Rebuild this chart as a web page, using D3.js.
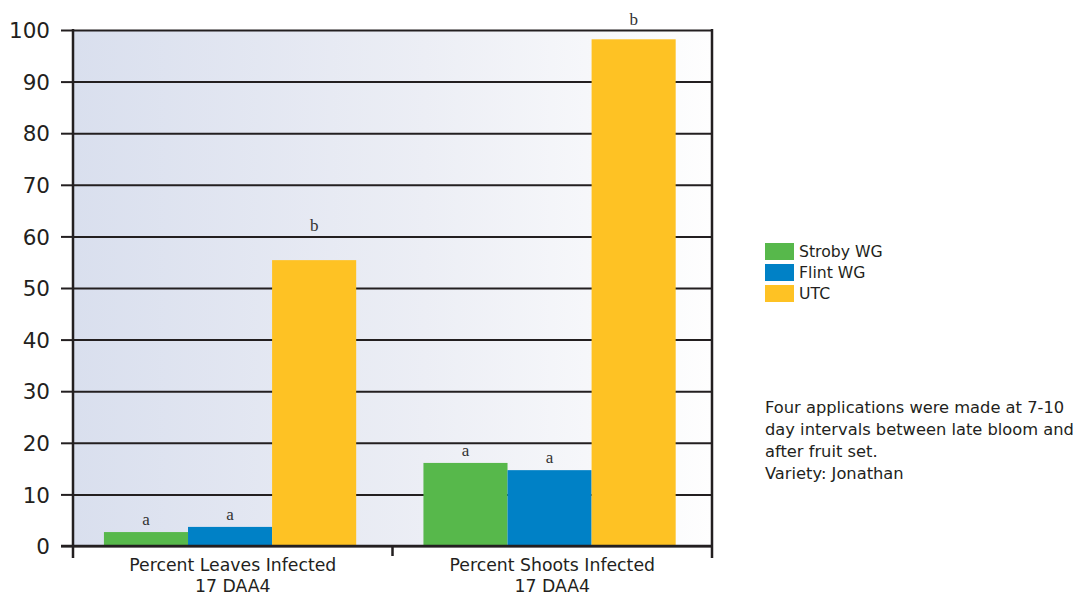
<!DOCTYPE html>
<html>
<head>
<meta charset="utf-8">
<script src="https://cdn.jsdelivr.net/npm/d3@7"></script>
<style>
  body { margin: 0; background: #fff; }
  svg { display: block; }
</style>
</head>
<body>
<script>
// data
const categories = ['Percent Leaves Infected|17 DAA4', 'Percent Shoots Infected|17 DAA4'];
const series = ['Stroby WG', 'Flint WG', 'UTC'];
const colors = ['#57b84b', '#0081c6', '#fec224'];
const stroby = [2.7, 16.1];
const flint = [3.7, 14.7];
const utc = [55.4, 98.2];
const letters = [['a', 'a', 'b'], ['a', 'a', 'b']];
// value each letter sits on (the UTC letters sit above the next grid line)
const letterAt = [[2.7, 3.7, 60], [16.1, 14.7, 100]];
const yTicks = [0, 10, 20, 30, 40, 50, 60, 70, 80, 90, 100];
const note = [
  'Four applications were made at 7-10',
  'day intervals between late bloom and',
  'after fruit set.',
  'Variety: Jonathan'
];

const width = 1076, height = 596;
const margin = { top: 30, right: 364, bottom: 50, left: 73 };
const ink = '#231f20';

const svg = d3.select('body').append('svg')
  .attr('width', width)
  .attr('height', height);

const x0 = d3.scaleBand()
  .domain(categories)
  .range([margin.left, width - margin.right]);

const x1 = d3.scaleBand()
  .domain(series)
  .range([0, x0.bandwidth()])
  .paddingOuter(0.4)
  .align(0.46);

const y = d3.scaleLinear()
  .domain([0, 100])
  .range([height - margin.bottom, margin.top]);

const plotW = width - margin.right - margin.left;

// background gradient
const grad = svg.append('defs').append('linearGradient')
  .attr('id', 'bg')
  .attr('x1', 0).attr('x2', 1).attr('y1', 0).attr('y2', 0);
grad.append('stop').attr('offset', 0).attr('stop-color', '#d9dfee');
grad.append('stop').attr('offset', 0.55).attr('stop-color', '#eceef5');
grad.append('stop').attr('offset', 1).attr('stop-color', '#fefefe');

svg.append('rect')
  .attr('x', margin.left)
  .attr('y', y(100))
  .attr('width', plotW)
  .attr('height', y(0) - y(100))
  .attr('fill', 'url(#bg)');

// grid lines + left ticks
const grid = svg.append('g')
  .attr('transform', `translate(${margin.left},0)`)
  .call(d3.axisLeft(y).tickValues(yTicks).tickSizeInner(-plotW).tickSizeOuter(0).tickFormat(''));
grid.select('.domain').remove();
grid.selectAll('line').attr('stroke', ink).attr('stroke-width', 2);

const yAxis = svg.append('g')
  .attr('transform', `translate(${margin.left},0)`)
  .call(d3.axisLeft(y).tickValues(yTicks).tickSize(12).tickPadding(11));
yAxis.select('.domain').remove();
yAxis.selectAll('line').attr('stroke', ink).attr('stroke-width', 2);
yAxis.selectAll('text')
  .attr('fill', ink)
  .style('font-family', 'DejaVu Sans')
  .style('font-size', '21.5px')
  .attr('dy', '0.36em');

// bars
const rows = categories.map((c, i) => ({
  cat : c,
  vals : [stroby[i], flint[i], utc[i]].map((v, j) => ({
    key : series[j], v, color : colors[j], letter : letters[i][j], at : letterAt[i][j]
  }))
}));

const groups = svg.append('g')
  .selectAll('g')
  .data(rows)
  .join('g')
  .attr('transform', (d) => `translate(${x0(d.cat)},0)`);

groups.selectAll('rect')
  .data((d) => d.vals)
  .join('rect')
  .attr('x', (d) => x1(d.key))
  .attr('y', (d) => y(d.v))
  .attr('width', x1.bandwidth())
  .attr('height', (d) => y(0) - y(d.v))
  .attr('fill', (d) => d.color);

// significance letters
groups.selectAll('text')
  .data((d) => d.vals)
  .join('text')
  .attr('x', (d) => x1(d.key) + x1.bandwidth() / 2)
  .attr('y', (d) => y(d.at) - (d.at === d.v ? 7 : 5))
  .attr('text-anchor', 'middle')
  .attr('fill', '#333')
  .style('font-family', 'Liberation Serif')
  .style('font-size', '17px')
  .text((d) => d.letter);

// frame: left axis, right border, bottom axis
const frame = svg.append('g').attr('stroke', ink).attr('stroke-width', 2.5);
frame.append('line')
  .attr('x1', margin.left).attr('x2', margin.left)
  .attr('y1', y(100) - 1).attr('y2', y(0) + 12);
frame.append('line')
  .attr('x1', margin.left + plotW).attr('x2', margin.left + plotW)
  .attr('y1', y(100) - 1).attr('y2', y(0) + 12);
frame.append('line')
  .attr('x1', margin.left - 12).attr('x2', margin.left + plotW)
  .attr('y1', y(0)).attr('y2', y(0));

// category separators on the x axis
frame.selectAll('.sep')
  .data(categories.slice(1))
  .join('line')
  .attr('x1', (d) => x0(d)).attr('x2', (d) => x0(d))
  .attr('y1', y(0)).attr('y2', y(0) + 10);

// category labels
const xLabels = svg.append('g')
  .selectAll('text')
  .data(categories)
  .join('text')
  .attr('x', (d) => x0(d) + x0.bandwidth() / 2)
  .attr('y', y(0) + 25)
  .attr('text-anchor', 'middle')
  .attr('fill', ink)
  .style('font-family', 'DejaVu Sans')
  .style('font-size', '17.3px');

xLabels.selectAll('tspan')
  .data((d) => d.split('|'))
  .join('tspan')
  .attr('x', function () { return this.parentNode.getAttribute('x'); })
  .attr('dy', (d, i) => (i ? 21 : 0))
  .text((d) => d);

// legend
const legend = svg.append('g')
  .attr('transform', 'translate(765,243)');

const li = legend.selectAll('g')
  .data(series)
  .join('g')
  .attr('transform', (d, i) => `translate(0,${i * 21})`);

li.append('rect')
  .attr('width', 29)
  .attr('height', 17)
  .attr('fill', (d, i) => colors[i]);

li.append('text')
  .attr('x', 34)
  .attr('y', 14)
  .attr('fill', ink)
  .style('font-family', 'DejaVu Sans')
  .style('font-size', '15.7px')
  .text((d) => d);

// footnote
svg.append('g')
  .selectAll('text')
  .data(note)
  .join('text')
  .attr('x', 765)
  .attr('y', (d, i) => 413 + i * 22)
  .attr('fill', ink)
  .style('font-family', 'DejaVu Sans')
  .style('font-size', '16.3px')
  .text((d) => d);
</script>
</body>
</html>
